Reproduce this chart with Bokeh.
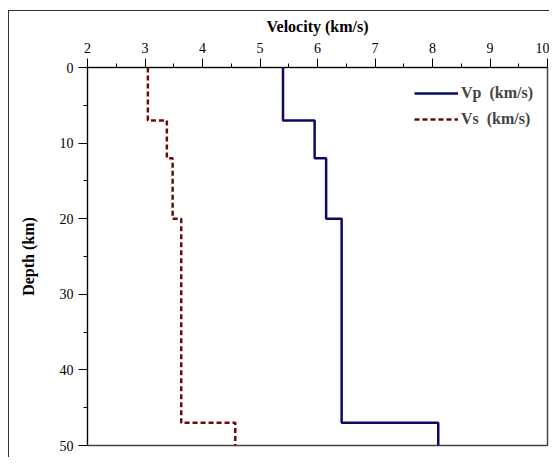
from bokeh.plotting import figure
from bokeh.models import Range1d, SingleIntervalTicker, Legend, LegendItem
from bokeh.embed import file_html
from bokeh.resources import INLINE

# Layer model (depth in km, velocities in km/s)
layer_top = [0, 7, 12, 20, 47]
layer_bottom = [7, 12, 20, 47, 50]
vp = [5.4, 5.95, 6.15, 6.42, 8.1]
vs = [3.05, 3.38, 3.48, 3.63, 4.57]

x_ticks_start, x_ticks_end = 2, 10
depth_start, depth_end = 0, 50


def step_path(vals):
    xs, ys = [], []
    for v, t, b in zip(vals, layer_top, layer_bottom):
        xs += [v, v]
        ys += [t, b]
    return xs, ys


FONT = "Liberation Serif"

p = figure(
    frame_width=460, frame_height=378,
    x_range=Range1d(x_ticks_start, x_ticks_end),
    y_range=Range1d(depth_end, depth_start),
    x_axis_location="above",
    output_backend="svg", toolbar_location=None,
    min_border_left=78, min_border_top=56, min_border_right=2, min_border_bottom=12,
)
p.stylesheets = [":host { margin-left: 8px; margin-top: 10px; border-top: 1px solid #333; border-left: 1px solid #333; }"]
p.grid.visible = False
p.outline_line_color = "#444444"
p.outline_line_width = 1.5

xa = p.xaxis[0]
xa.ticker = SingleIntervalTicker(interval=1, num_minor_ticks=2)
xa.axis_label = "Velocity (km/s)"
ya = p.yaxis[0]
ya.ticker = SingleIntervalTicker(interval=10, num_minor_ticks=2)
ya.axis_label = "Depth (km)"
for ax in (xa, ya):
    ax.major_tick_out = 9
    ax.major_tick_in = 0
    ax.minor_tick_out = 4
    ax.minor_tick_in = 0
    ax.axis_line_color = "black"
    ax.major_tick_line_color = "black"
    ax.minor_tick_line_color = "black"
    ax.major_label_text_font = FONT
    ax.major_label_text_font_size = "14px"
    ax.major_label_text_color = "black"
    ax.axis_label_text_font = FONT
    ax.axis_label_text_font_size = "16px"
    ax.axis_label_text_font_style = "bold"
    ax.axis_label_text_color = "black"
xa.major_label_standoff = 6
xa.axis_label_standoff = 5
ya.major_label_standoff = 5
ya.axis_label_standoff = 20

x1, y1 = step_path(vp)
x2, y2 = step_path(vs)
r1 = p.line(x1, y1, line_color="#0a0a66", line_width=2.5)
r2 = p.line(x2, y2, line_color="#6b0808", line_width=2.5, line_dash="5 3")

legend = Legend(items=[LegendItem(label="Vp  (km/s)", renderers=[r1]),
                       LegendItem(label="Vs  (km/s)", renderers=[r2])],
                location="top_right")
legend.margin = 6
legend.padding = 8
legend.spacing = 2
legend.glyph_width = 44
legend.glyph_height = 24
legend.label_height = 24
legend.label_standoff = 3
legend.label_text_font = FONT
legend.label_text_font_size = "16px"
legend.label_text_font_style = "bold"
legend.background_fill_alpha = 0
legend.border_line_alpha = 0
p.add_layout(legend)

open("out.html", "w").write(file_html(p, INLINE))
